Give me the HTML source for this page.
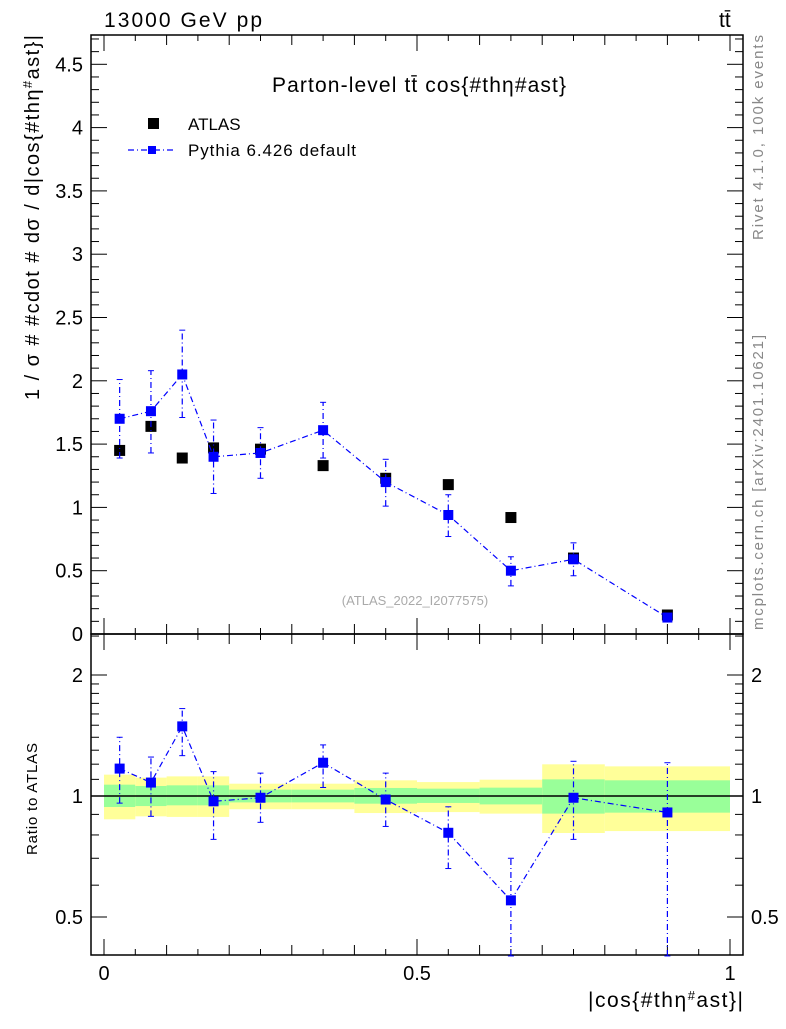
<!DOCTYPE html>
<html><head><meta charset="utf-8"><style>
body{margin:0;background:#fff;}
svg text{font-family:"Liberation Sans",sans-serif;}
</style></head><body>
<svg id="c" width="786" height="1024" viewBox="0 0 786 1024" xmlns="http://www.w3.org/2000/svg">
<text x="104" y="27" font-size="21" textLength="158">13000 GeV pp</text>
<text x="719" y="27" font-size="21">tt̄</text>
<text x="272" y="92" font-size="21" textLength="294">Parton-level tt̄ cos{#thη#ast}</text>
<text transform="translate(763,240) rotate(-90)" font-size="15" fill="#888" textLength="205">Rivet 4.1.0,  100k events</text>
<text transform="translate(763,630) rotate(-90)" font-size="15" fill="#888" textLength="295">mcplots.cern.ch [arXiv:2401.10621]</text>
<text x="415" y="605" font-size="13" fill="#aaa" text-anchor="middle">(ATLAS_2022_I2077575)</text>
<text transform="translate(39,400) rotate(-90)" font-size="20" textLength="365">1 / σ # #cdot # dσ / d|cos{#thη<tspan dy="-7" font-size="13">#</tspan><tspan dy="7">ast}|</tspan></text>
<text transform="translate(37,855) rotate(-90)" font-size="15" textLength="112">Ratio to ATLAS</text>
<text x="588" y="1007" font-size="21" textLength="155">|cos{#thη<tspan dy="-7" font-size="13">#</tspan><tspan dy="7">ast}|</tspan></text>
<rect x="148" y="118" width="11" height="11" fill="#000"/>
<text x="188" y="130" font-size="17">ATLAS</text>
<line x1="128" y1="150" x2="175" y2="150" stroke="#00f" stroke-width="1.2" stroke-dasharray="6,3,1,3"/>
<rect x="148" y="146" width="8" height="8" fill="#00f"/>
<text x="188" y="156" font-size="17" textLength="168">Pythia 6.426 default</text>
<g id="g"></g>
</svg>
<script>
const binLo=[0,0.05,0.1,0.15,0.2,0.3,0.4,0.5,0.6,0.7,0.8];
const binHi=[0.05,0.1,0.15,0.2,0.3,0.4,0.5,0.6,0.7,0.8,1.0];
const atlas=[1.45,1.64,1.39,1.47,1.46,1.33,1.23,1.18,0.92,0.60,0.15];
const pythia=[1.70,1.76,2.05,1.40,1.43,1.61,1.20,0.94,0.50,0.59,0.13];
const pythiaLo=[1.39,1.43,1.71,1.11,1.23,1.39,1.01,0.77,0.38,0.46,0.10];
const pythiaHi=[2.01,2.08,2.40,1.69,1.63,1.83,1.38,1.10,0.61,0.72,0.16];
const ratio=[1.17,1.08,1.49,0.97,0.99,1.21,0.98,0.81,0.55,0.99,0.91];
const ratioLo=[0.96,0.89,1.26,0.78,0.86,1.05,0.84,0.66,0.40,0.78,0.40];
const ratioHi=[1.40,1.25,1.65,1.15,1.14,1.34,1.14,0.94,0.70,1.22,1.21];
const yelUp=[1.130,1.111,1.119,1.119,1.073,1.073,1.094,1.083,1.098,1.199,1.185];
const yelDn=[0.875,0.890,0.887,0.887,0.927,0.927,0.907,0.912,0.904,0.809,0.818];
const grnUp=[1.067,1.059,1.063,1.063,1.037,1.037,1.047,1.043,1.049,1.100,1.094];
const grnDn=[0.939,0.944,0.948,0.948,0.964,0.964,0.957,0.961,0.953,0.904,0.909];
const mainTicks=[0,0.5,1,1.5,2,2.5,3,3.5,4,4.5];
const ratioTicks=[0.5,1,2];
const xTicks=[0,0.5,1];

const L=91,R=743,T=35,M=634,B=955;
const X=v=>104+v*626;
const Y=v=>634-v*126.6;
const YR=v=>796-Math.log2(v)*121;
const g=document.getElementById('g');
const NS='http://www.w3.org/2000/svg';
function el(t,a){const e=document.createElementNS(NS,t);for(const k in a)e.setAttribute(k,a[k]);g.appendChild(e);return e;}

for(let i=0;i<binLo.length;i++){
 let r=el('rect',{x:X(binLo[i]),y:YR(yelUp[i]),width:X(binHi[i])-X(binLo[i]),height:YR(yelDn[i])-YR(yelUp[i]),fill:'#ffff99'});
 
 
 r=el('rect',{x:X(binLo[i]),y:YR(grnUp[i]),width:X(binHi[i])-X(binLo[i]),height:YR(grnDn[i])-YR(grnUp[i]),fill:'#99ff99'});
 
 
}
el('line',{x1:L,x2:R,y1:YR(1),y2:YR(1),stroke:'#000','stroke-width':1.5});

let f=el('rect',{x:L,y:T,width:R-L,height:M-T,fill:'none',stroke:'#000','stroke-width':1.5});


f=el('rect',{x:L,y:M,width:R-L,height:B-M,fill:'none',stroke:'#000','stroke-width':1.5});



for(let v=0;v<=4.7;v+=0.1){const y=Y(v);const maj=Math.abs(v*2-Math.round(v*2))<1e-6;const l=maj?16:8;
 el('line',{x1:L,x2:L+l,y1:y,y2:y,stroke:'#000'});el('line',{x1:R,x2:R-l,y1:y,y2:y,stroke:'#000'});}
mainTicks.forEach(v=>{const t=el('text',{x:L-8,y:Y(v)+7,'font-size':20,'text-anchor':'end'});t.textContent=v;
 
 });
[0.4,0.5,0.6,0.7,0.8,0.9,1,1.1,1.2,1.3,1.4,1.5,1.6,1.7,1.8,1.9,2,2.5].forEach(v=>{const y=YR(v);if(y<M||y>B)return;const maj=ratioTicks.includes(v);const l=maj?16:8;
 el('line',{x1:L,x2:L+l,y1:y,y2:y,stroke:'#000'});el('line',{x1:R,x2:R-l,y1:y,y2:y,stroke:'#000'});});
ratioTicks.forEach(v=>{let t=el('text',{x:L-8,y:YR(v)+7,'font-size':20,'text-anchor':'end'});t.textContent=v;
 
 
 t=el('text',{x:R+8,y:YR(v)+7,'font-size':20,fill:'#000'});t.textContent=v;
 
 });
for(let k=0;k<=20;k++){const v=k*0.05;const x=X(v);const maj=k%10==0;const l=maj?16:(k%2==0?10:6);
 [[T,1],[M,-1],[M,1],[B,-1]].forEach(([y0,s])=>el('line',{x1:x,x2:x,y1:y0,y2:y0+s*l,stroke:'#000'}));}
xTicks.forEach(v=>{const t=el('text',{x:X(v),y:980,'font-size':20,'text-anchor':'middle'});t.textContent=v;
 
 });

const cx=i=>X((binLo[i]+binHi[i])/2);
atlas.forEach((v,i)=>{const r=el('rect',{x:cx(i)-5.5,y:Y(v)-5.5,width:11,height:11,fill:'#000'});
 
 });
function series(vals,lo,hi,Yf,nm){
 const pts=vals.map((v,i)=>cx(i)+','+Yf(v)).join(' ');
 const pl=el('polyline',{points:pts,fill:'none',stroke:'#00f','stroke-width':1.2,'stroke-dasharray':'6,3,1,3'});
 
 
 vals.forEach((v,i)=>{const x=cx(i);
  el('line',{x1:x,x2:x,y1:Yf(lo[i]),y2:Yf(hi[i]),stroke:'#00f','stroke-width':1.2,'stroke-dasharray':'6,3,1,3'});
  el('line',{x1:x-3,x2:x+3,y1:Yf(lo[i]),y2:Yf(lo[i]),stroke:'#00f'});
  el('line',{x1:x-3,x2:x+3,y1:Yf(hi[i]),y2:Yf(hi[i]),stroke:'#00f'});
  const r=el('rect',{x:x-5,y:Yf(v)-5,width:10,height:10,fill:'#00f'});
  
  });
}
series(pythia,pythiaLo,pythiaHi,Y,'pythia');
series(ratio,ratioLo.map(v=>Math.max(v,0.4)),ratioHi,YR,'pythia-ratio');
</script>
</body></html>
